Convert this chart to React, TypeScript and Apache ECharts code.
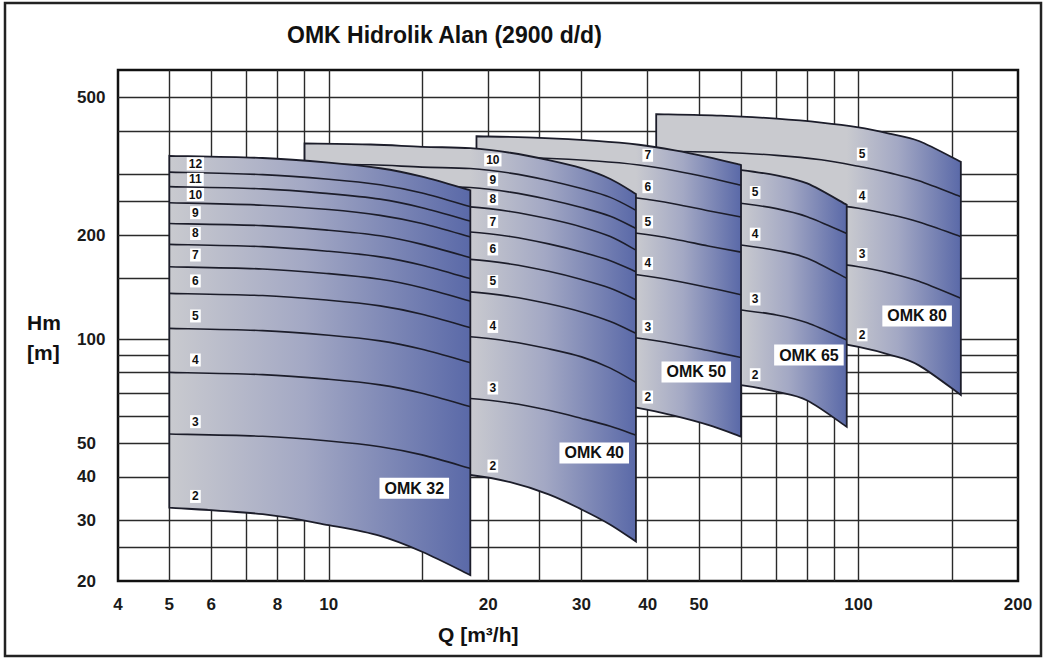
import React, { useEffect, useRef } from "react";
import * as echarts from "echarts";

const FONT = '"Liberation Sans", Arial, Helvetica, sans-serif';

const titleText = "OMK Hidrolik Alan (2900 d/d)";
const xAxisTitle = "Q [m³/h]";
const yAxisTitle = ["Hm", "[m]"];

const xTickLabels = [4, 5, 6, 8, 10, 20, 30, 40, 50, 100, 200];
const yTickLabels = [20, 30, 40, 50, 100, 200, 500];
const xGridValues = [5, 6, 7, 8, 9, 10, 15, 20, 25, 30, 40, 50, 60, 70, 80, 90, 100, 150];
const yGridValues = [25, 30, 40, 50, 60, 70, 80, 90, 100, 150, 200, 250, 300, 400, 500];

const familyNames = ["OMK 32", "OMK 40", "OMK 50", "OMK 65", "OMK 80"];

// Each family: flow points, then head curves from the bottom edge up to the top edge.
const q32 = [5, 7.5, 10, 12.5, 15, 18.5];
const stages32 = ["2", "3", "4", "5", "6", "7", "8", "9", "10", "11", "12"];
const h32 = [
  [32.6, 31.2, 29.0, 27.0, 24.3, 20.8],
  [53.2, 52.4, 50.8, 48.9, 46.3, 42.3],
  [80.2, 79.0, 76.6, 73.8, 69.8, 63.8],
  [107.5, 105.9, 102.7, 98.9, 93.5, 85.5],
  [135.7, 133.7, 129.6, 124.8, 118.1, 107.9],
  [162, 159.6, 154.7, 149.0, 140.9, 128.8],
  [188, 185.2, 179.5, 173.0, 163.6, 149.5],
  [216, 213, 206.5, 199, 188, 172],
  [248, 244, 237, 228, 216, 197.5],
  [276, 272, 263.5, 254, 240, 219.5],
  [304, 299, 290, 279.5, 264.5, 241.5],
  [339, 334, 324, 312, 295, 269.5],
];

const q40 = [9, 12, 15, 18.5, 22, 26, 30, 34, 38];
const stages40 = ["2", "3", "4", "5", "6", "7", "8", "9", "10"];
const h40 = [
  [42.5, 42.2, 41.5, 40.5, 38.6, 35.6, 32.2, 29.1, 26.0],
  [69.6, 69.1, 68.1, 67.4, 65.4, 62.3, 59.0, 56.0, 52.8],
  [104.8, 104.1, 102.5, 101.6, 98.5, 93.8, 88.9, 82.5, 75.0],
  [141.4, 140.4, 138.3, 137.0, 132.9, 126.6, 119.9, 112.5, 104.0],
  [175.5, 174.3, 171.6, 170.1, 165.0, 157.1, 148.8, 140.4, 130.0],
  [210.7, 209.2, 206.1, 204.2, 198.1, 188.6, 178.7, 168.6, 156.7],
  [248.9, 247.2, 243.4, 241.2, 234.0, 222.8, 211.1, 198.0, 181.0],
  [283.2, 281.2, 277.0, 274.4, 266.2, 253.5, 240.2, 226.6, 209.0],
  [321.4, 319.2, 314.3, 311.4, 302.1, 287.7, 272.5, 257.0, 236.0],
  [368, 365.4, 359.9, 356.6, 345.9, 329.4, 312.1, 290.5, 263.0],
];

const q50 = [19, 25, 32, 38.5, 45, 52, 60];
const stages50 = ["2", "3", "4", "5", "6", "7"];
const h50 = [
  [68, 67.5, 66, 63.2, 60, 56.5, 52.3],
  [106.5, 105.4, 103.3, 100.6, 96.9, 92.7, 88.5],
  [162.2, 160.6, 157.3, 153.3, 147.6, 141.1, 134.5],
  [213.8, 211.7, 207.4, 202, 194.6, 186, 178.5],
  [270.3, 267.6, 262.2, 255.4, 246, 235.2, 225.5],
  [337.4, 334, 327.3, 318.8, 307, 293.5, 278.5],
  [386, 382.1, 374.4, 364.8, 351.3, 335.8, 318.8],
];

const q65 = [30, 40, 50, 60, 70, 80, 95];
const stages65 = ["2", "3", "4", "5"];
const h65 = [
  [78, 77.5, 76, 73.7, 70.5, 66.5, 55.8],
  [128.5, 127.5, 125, 121.4, 117.5, 111.5, 99.4],
  [198.5, 196.5, 193, 187.2, 180.5, 171.5, 150],
  [262, 259.5, 254.5, 247, 238.5, 226, 202],
  [326.5, 323.5, 317.5, 308.2, 297.5, 282, 244.5],
];

const q80 = [41.5, 55, 70, 85, 100, 115, 130, 156];
const stages80 = ["2", "3", "4", "5"];
const h80 = [
  [105, 104, 102, 99, 95, 90, 84, 69],
  [177, 175, 171.5, 167, 162, 155, 147, 131.3],
  [261, 258.5, 253, 246.5, 239, 229, 218, 197.8],
  [350, 347, 340, 330, 316, 302, 287, 258],
  [447.5, 443, 434, 423, 409.5, 392, 374, 325.6],
];

// where the stage numbers sit (flow) and where the family names sit (flow, head)
const stageLabelQ = [5.6, 20.4, 40, 63.8, 101.6];
const familyLabelAt = [
  [14.5, 37.1],
  [31.7, 46.9],
  [49.4, 80.4],
  [80.6, 90],
  [129, 116.7],
];

const families = [
  { name: familyNames[0], q: q32, curves: h32, stages: stages32 },
  { name: familyNames[1], q: q40, curves: h40, stages: stages40 },
  { name: familyNames[2], q: q50, curves: h50, stages: stages50 },
  { name: familyNames[3], q: q65, curves: h65, stages: stages65 },
  { name: familyNames[4], q: q80, curves: h80, stages: stages80 },
];

const LINE = "#1c1d2a";

function smoothSegs(pts: number[][]): string {
  let d = "";
  for (let i = 0; i < pts.length - 1; i++) {
    const p0 = pts[i - 1] || pts[i];
    const p1 = pts[i];
    const p2 = pts[i + 1];
    const p3 = pts[i + 2] || p2;
    const c1x = p1[0] + (p2[0] - p0[0]) / 6;
    const c1y = p1[1] + (p2[1] - p0[1]) / 6;
    const c2x = p2[0] - (p3[0] - p1[0]) / 6;
    const c2y = p2[1] - (p3[1] - p1[1]) / 6;
    d += ` C${c1x.toFixed(2)},${c1y.toFixed(2)} ${c2x.toFixed(2)},${c2y.toFixed(2)} ${p2[0].toFixed(2)},${p2[1].toFixed(2)}`;
  }
  return d;
}

function yAtX(pts: number[][], x: number): number {
  for (let j = 0; j < pts.length - 1; j++) {
    const a = pts[j];
    const b = pts[j + 1];
    if (x >= a[0] && x <= b[0]) {
      const t = (x - a[0]) / (b[0] - a[0]);
      return a[1] + t * (b[1] - a[1]);
    }
  }
  return x < pts[0][0] ? pts[0][1] : pts[pts.length - 1][1];
}

function makeRender(fi: number) {
  return (params: any, api: any) => {
    const fam = families[fi];
    const pts = fam.curves.map((c) => c.map((h, i) => api.coord([fam.q[i], h])));
    const top = pts[pts.length - 1];
    const bot = pts[0];
    const botRev = bot.slice().reverse();
    const outline =
      `M${top[0][0].toFixed(2)},${top[0][1].toFixed(2)}` +
      smoothSegs(top) +
      ` L${botRev[0][0].toFixed(2)},${botRev[0][1].toFixed(2)}` +
      smoothSegs(botRev) +
      " Z";
    const visQ = fi === 0 ? fam.q[0] : families[fi - 1].q[families[fi - 1].q.length - 1];
    const x0 = api.coord([visQ, 100])[0];
    const x1 = top[top.length - 1][0];
    const grad = new echarts.graphic.LinearGradient(
      x0,
      0,
      x1,
      0,
      [
        { offset: 0, color: "#c9cacf" },
        { offset: 0.45, color: "#a3a8c4" },
        { offset: 1, color: "#5a69a8" },
      ],
      true
    );
    const children: any[] = [];
    children.push({ type: "path", shape: { pathData: outline }, style: { fill: grad, stroke: null } });
    for (let k = 1; k < pts.length - 1; k++) {
      const p = pts[k];
      children.push({
        type: "path",
        shape: { pathData: `M${p[0][0].toFixed(2)},${p[0][1].toFixed(2)}` + smoothSegs(p) },
        style: { fill: null, stroke: LINE, lineWidth: 1.6 },
      });
    }
    children.push({
      type: "path",
      shape: { pathData: outline },
      style: { fill: null, stroke: LINE, lineWidth: 1.8, lineJoin: "miter" },
    });
    const lx = api.coord([stageLabelQ[fi], 100])[0];
    for (let b = 0; b < fam.stages.length; b++) {
      const yb = yAtX(pts[b], lx);
      const yt = yAtX(pts[b + 1], lx);
      const h = yb - yt;
      const y = yb - Math.min(13, 0.55 * h);
      children.push({
        type: "text",
        x: lx,
        y: y,
        style: {
          text: fam.stages[b],
          font: `bold 12px ${FONT}`,
          fill: "#111",
          align: "center",
          verticalAlign: "middle",
          backgroundColor: "#ffffff",
          padding: [1, 2, 0, 2],
        },
      });
    }
    const np = api.coord(familyLabelAt[fi]);
    children.push({
      type: "text",
      x: np[0],
      y: np[1],
      style: {
        text: fam.name,
        font: `bold 16px ${FONT}`,
        fill: "#111",
        align: "center",
        verticalAlign: "middle",
        backgroundColor: "#ffffff",
        padding: [3, 5, 2, 5],
      },
    });
    return { type: "group", children };
  };
}

function buildOption(): any {
  const labelStyle = { fontFamily: FONT, fontWeight: "bold", fontSize: 17, color: "#1a1a1a" };
  return {
    animation: false,
    backgroundColor: "#ffffff",
    title: {
      text: titleText,
      left: 287,
      top: 23,
      padding: 0,
      textStyle: { fontFamily: FONT, fontWeight: "bold", fontSize: 23, color: "#111" },
    },
    grid: {
      left: 118,
      top: 70,
      right: 29,
      bottom: 80,
      show: true,
      borderColor: "#111",
      borderWidth: 2.5,
      backgroundColor: "transparent",
      containLabel: false,
      outerBoundsMode: "none",
    },
    xAxis: {
      type: "log",
      logBase: 10,
      min: 4,
      max: 200,
      axisLine: { show: false },
      axisTick: { show: false, customValues: xGridValues },
      minorTick: { show: false },
      minorSplitLine: { show: false },
      splitLine: { show: true, lineStyle: { color: "#2a2a2a", width: 1.4 } },
      axisLabel: { customValues: xTickLabels, margin: 15, ...labelStyle },
    },
    yAxis: {
      type: "log",
      logBase: 10,
      min: 20,
      max: 600,
      axisLine: { show: false },
      axisTick: { show: false, customValues: yGridValues },
      minorTick: { show: false },
      minorSplitLine: { show: false },
      splitLine: { show: true, lineStyle: { color: "#2a2a2a", width: 1.4 } },
      axisLabel: { customValues: yTickLabels, margin: 41, align: "left", ...labelStyle },
    },
    series: families.map((fam, fi) => ({
      type: "custom",
      name: fam.name,
      silent: true,
      z: 20 - fi,
      renderItem: makeRender(fi),
      data: [[fam.q[0], fam.curves[0][0]]],
    })),
    graphic: [
      {
        type: "rect",
        silent: true,
        z: 100,
        shape: { x: 5, y: 3, width: 1036, height: 653 },
        style: { fill: null, stroke: "#222", lineWidth: 2.5 },
      },
      {
        type: "text",
        silent: true,
        x: 27,
        y: 322,
        style: { text: yAxisTitle[0], font: `bold 21px ${FONT}`, fill: "#111", align: "left", verticalAlign: "middle" },
      },
      {
        type: "text",
        silent: true,
        x: 27,
        y: 352,
        style: { text: yAxisTitle[1], font: `bold 21px ${FONT}`, fill: "#111", align: "left", verticalAlign: "middle" },
      },
      {
        type: "text",
        silent: true,
        x: 438,
        y: 634,
        style: { text: xAxisTitle, font: `bold 21px ${FONT}`, fill: "#111", align: "left", verticalAlign: "middle" },
      },
    ],
  };
}

export default function App() {
  const ref = useRef<HTMLDivElement>(null);
  useEffect(() => {
    document.body.style.margin = "0";
    const chart = echarts.init(ref.current as HTMLDivElement, null, { renderer: "svg" });
    chart.setOption(buildOption());
    return () => chart.dispose();
  }, []);
  return <div ref={ref} style={{ width: "1047px", height: "661px" }} />;
}
